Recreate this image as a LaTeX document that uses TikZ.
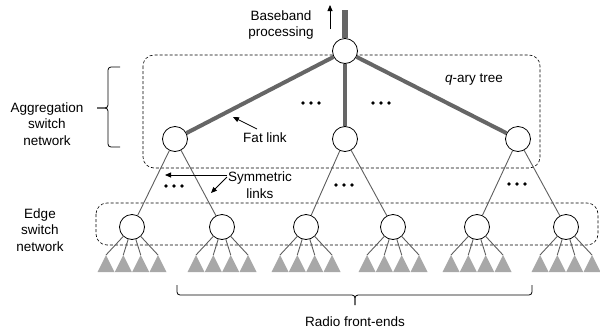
\documentclass[tikz,border=0pt]{standalone}
\usepackage{fontspec}
\setmainfont{Liberation Sans}
\usetikzlibrary{arrows.meta,positioning,calc}
\definecolor{fatgray}{HTML}{666666}
\definecolor{linkgray}{HTML}{5E5E5E}
\definecolor{rrhgray}{HTML}{A8A8A8}

\begin{document}
\begin{tikzpicture}[x=1pt,y=-1pt,font=\fontsize{13.5}{16.5}\selectfont,
  sw/.style={circle,draw,fill=white,line width=.8pt,minimum size=25pt,inner sep=0pt},
  fat/.style={fatgray,line width=4pt},
  lnk/.style={linkgray,line width=.9pt},
  region/.style={dash pattern=on 3pt off 2pt,line width=.6pt,rounded corners=11pt},
  tip/.style={-{Triangle[length=6pt,width=5pt]},line width=.8pt}]
\useasboundingbox (0,0) rectangle (600,335);
% dashed regions
\draw[region] (143,55) rectangle (540,168);
\draw[region] (96,203) rectangle (598,245);
% switches
\node[sw] (root) at (345,51) {};
\node[sw] (a1) at (175,139) {};\node[sw] (a2) at (345,139) {};\node[sw] (a3) at (518,139) {};
\foreach \n/\x in {1/132,2/222,3/306,4/393,5/477,6/566} \node[sw] (e\n) at (\x,227) {};
% fat links and trunk
\coordinate (bb) at (345,10);
\draw[fatgray,line width=6pt] (root) -- (bb);
\foreach \a in {a1,a2,a3} \draw[fat] (root) -- (\a);
% symmetric links
\draw[lnk] (a1)--(e1) (a1)--(e2) (a2)--(e3) (a2)--(e4) (a3)--(e5) (a3)--(e6);
% radio front-ends
\foreach \n/\x in {1/132,2/222,3/306,4/393,5/477,6/566}
  \foreach \o [count=\k] in {-26,-8.7,8.7,26}{
    \coordinate (r\n\k) at (\x+\o,255);
    \fill[rrhgray] (r\n\k) -- ++(8.5,17) -- ++(-17,0) -- cycle;
    \draw[lnk] (e\n) -- (r\n\k);}
% dots
\foreach \x/\y in {311/103,381/103,174/186,344/185,517/184}
  \foreach \d in {-8,0,8} \fill (\x+\d,\y) circle (1.9);
% braces
\draw[line width=.8pt,rounded corners=3pt] (120,67) -| (108,108) -- (97,108);
\draw[line width=.8pt,rounded corners=3pt] (120,147) -| (108,108) -- (97,108);
\draw[line width=.8pt,rounded corners=3pt] (177,285) |- (355,295) -- (355,305);
\draw[line width=.8pt,rounded corners=3pt] (532,285) |- (355,295) -- (355,305);
% labels
\node[align=center] (bbtxt) at (281,25) {Baseband\\processing};
\draw[tip] (330,29) -- (330,5);
\node (qary) at (474,80) {\textit{q}-ary tree};
\node (fatl) at (265,138) {Fat link};
\draw[tip] (257,129) -- (233,117);
\node[align=center] (sym) at (260,185) {Symmetric\\links};
\draw[tip] (227,175) -- (165,175);
\draw[tip] (227,177) -- (211,193);
\node[align=center] (agg) at (47,124) {Aggregation\\switch\\network};
\node[align=center] (edg) at (40,230) {Edge\\switch\\network};
\node (rfe) at (355,322) {Radio front-ends};
\end{tikzpicture}
\end{document}
